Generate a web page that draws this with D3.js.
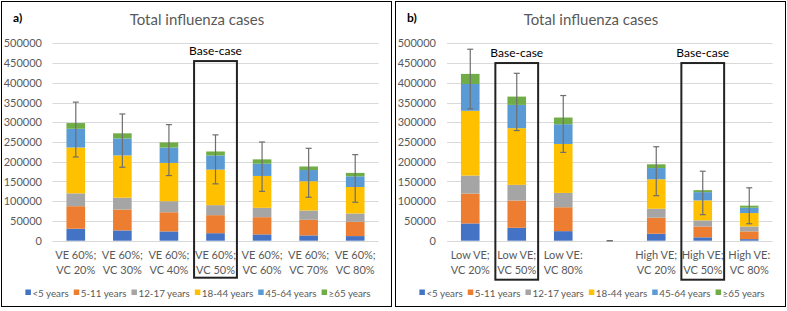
<!DOCTYPE html>
<html>
<head>
<meta charset="utf-8">
<script src="https://cdn.jsdelivr.net/npm/d3@7"></script>
<style>
  html, body { margin: 0; padding: 0; background: #fff; }
  svg { display: block; font-family: Lato, "Liberation Sans", sans-serif; }
</style>
</head>
<body>
<svg id="chart" width="787" height="311"></svg>
<script>
// ---------- DATA ----------
const seriesNames = ["<5 years", "5-11 years", "12-17 years", "18-44 years", "45-64 years", "≥65 years"];
const seriesColors = ["#4472C4", "#ED7D31", "#A5A5A5", "#FFC000", "#5B9BD5", "#70AD47"];
const yTicks = [0, 50000, 100000, 150000, 200000, 250000, 300000, 350000, 400000, 450000, 500000];

// Panel a)
const catsA = ["VE 60%;\nVC 20%", "VE 60%;\nVC 30%", "VE 60%;\nVC 40%", "VE 60%;\nVC 50%", "VE 60%;\nVC 60%", "VE 60%;\nVC 70%", "VE 60%;\nVC 80%"];
const a_lt5   = [30300, 26000, 23500, 19000, 16000, 13400, 11700];
const a_5_11  = [57100, 53000, 48500, 45700, 43600, 39600, 36300];
const a_12_17 = [32600, 30000, 28000, 25300, 23700, 23500, 21000];
const a_18_44 = [116000, 107000, 97000, 90000, 80700, 74000, 67000];
const a_45_64 = [47500, 43000, 39000, 36000, 31000, 28500, 27000];
const a_ge65  = [14500, 13000, 13000, 10000, 11000, 9000, 8700];
const a_errLow  = [212000, 186000, 165000, 144000, 125000, 110000, 97500];
const a_errHigh = [351000, 321000, 294000, 268000, 250000, 234000, 218000];
const a_baseCase = [3];          // index of highlighted category
const a_boxTop = 455000;         // value level of highlight box top

// Panel b)
const catsB = ["Low VE;\nVC 20%", "Low VE;\nVC 50%", "Low VE:\nVC 80%", "", "High VE;\nVC 20%", "High VE;\nVC 50%", "High VE:\nVC 80%"];
const b_lt5   = [43700, 32800, 24200, 0, 17700, 8500, 4000];
const b_5_11  = [75800, 68900, 60600, 0, 40600, 27500, 19600];
const b_12_17 = [45500, 39700, 36200, 0, 22700, 15500, 12400];
const b_18_44 = [164000, 143600, 124000, 0, 74500, 50500, 34000];
const b_45_64 = [68000, 59000, 50000, 0, 28500, 21000, 13600];
const b_ge65  = [25500, 21000, 17000, 0, 9500, 5000, 5100];
const b_errLow  = [334000, 279000, 223700, 0, 114000, 66000, 43000];
const b_errHigh = [485000, 424000, 367700, 0, 238000, 176000, 134000];
const b_baseCase = [1, 5];
const b_boxTop = 450000;

// ---------- DRAW ----------
const svg = d3.select("#chart");
const grey = "#595959";

function drawPanel(cfg) {
  const g = svg.append("g");
  // frame
  g.append("rect").attr("x", cfg.frame[0] + 0.5).attr("y", 1.5)
    .attr("width", cfg.frame[1] - cfg.frame[0]).attr("height", 305)
    .attr("fill", "none").attr("stroke", "#000").attr("stroke-width", 1);

  const x = d3.scaleBand().domain(d3.range(cfg.cats.length))
    .range(cfg.xr).paddingInner(0.6).paddingOuter(0.3);
  const y = d3.scaleLinear().domain([0, 500000]).range([240.7, 43.3]);

  // gridlines
  g.append("g").selectAll("line").data(yTicks).join("line")
    .attr("x1", cfg.xr[0]).attr("x2", cfg.xr[1])
    .attr("y1", d => Math.round(y(d)) + 0.5).attr("y2", d => Math.round(y(d)) + 0.5)
    .attr("stroke", "#D9D9D9").attr("stroke-width", 1);

  // y axis labels via d3 axis
  const yAxis = d3.axisLeft(y).tickValues(yTicks).tickSize(0).tickPadding(0).tickFormat(d3.format("d"));
  const ya = g.append("g").attr("transform", `translate(${cfg.yLabelX},0)`).call(yAxis);
  ya.select(".domain").remove();
  ya.selectAll("text").attr("fill", grey).attr("font-size", 11).attr("font-family", "Lato, sans-serif");

  // stacked bars
  const rows = cfg.cats.map((c, i) => {
    const r = { i };
    cfg.series.forEach((s, k) => r[k] = s[i]);
    return r;
  });
  const stack = d3.stack().keys(d3.range(cfg.series.length))(rows);
  g.append("g").selectAll("g").data(stack).join("g")
    .attr("fill", (d, k) => seriesColors[k])
    .selectAll("rect").data(d => d).join("rect")
    .attr("x", d => x(d.data.i))
    .attr("width", x.bandwidth())
    .attr("y", d => y(d[1]))
    .attr("height", d => Math.max(0, y(d[0]) - y(d[1])));

  // error bars
  const eb = g.append("g").attr("stroke", "#6E6E6E").attr("stroke-width", 1.2);
  cfg.cats.forEach((c, i) => {
    const cx = x(i) + x.bandwidth() / 2;
    eb.append("line").attr("x1", cx).attr("x2", cx).attr("y1", y(cfg.errHigh[i])).attr("y2", y(cfg.errLow[i]));
    [cfg.errHigh[i], cfg.errLow[i]].forEach(v => {
      eb.append("line").attr("x1", cx - 3).attr("x2", cx + 3).attr("y1", y(v)).attr("y2", y(v));
    });
  });

  // x labels
  cfg.cats.forEach((c, i) => {
    const cx = x(i) + x.bandwidth() / 2;
    const lines = c.split("\n");
    lines.forEach((ln, j) => {
      if (!ln) return;
      g.append("text").attr("x", cx).attr("y", 259 + j * 14.5)
        .attr("text-anchor", "middle").attr("font-size", 11).attr("fill", grey).text(ln);
    });
  });

  // highlight boxes
  cfg.baseCase.forEach(i => {
    const cx = x(i) + x.bandwidth() / 2;
    const half = x.step() * 0.46;
    const top = y(cfg.boxTop);
    g.append("rect").attr("x", cx - half).attr("y", top)
      .attr("width", half * 2).attr("height", y(0) + cfg.boxBottomOff - top)
      .attr("fill", "none").attr("stroke", "#222").attr("stroke-width", 2);
    g.append("text").attr("x", cx).attr("y", top - 6)
      .attr("text-anchor", "middle").attr("font-size", 12).attr("fill", "#000").text("Base-case");
  });

  // title and panel label
  const mid = (cfg.frame[0] + cfg.frame[1]) / 2;
  g.append("text").attr("x", mid + 1).attr("y", 25).attr("text-anchor", "middle")
    .attr("font-size", 15).attr("fill", grey).text("Total influenza cases");
  g.append("text").attr("x", cfg.frame[0] + 12).attr("y", 22)
    .attr("font-size", 12).attr("font-weight", "bold").attr("fill", "#000").text(cfg.label);

  // legend
  const lg = g.append("g");
  let cx = 0;
  seriesNames.forEach((n, k) => {
    lg.append("rect").attr("x", cx).attr("y", -4.5).attr("width", 5.5).attr("height", 5.5).attr("fill", seriesColors[k]);
    const t = lg.append("text").attr("x", cx + 7).attr("y", 0.5).attr("dominant-baseline", "middle")
      .attr("font-size", 9.8).attr("fill", grey).text(n);
    cx += 7 + t.node().getComputedTextLength() + 5;
  });
  const lw = cx - 5;
  lg.attr("transform", `translate(${mid + 2 - lw / 2},294)`);
}

drawPanel({
  frame: [1, 391], xr: [52.5, 378.5], yLabelX: 42, label: "a)",
  cats: catsA, series: [a_lt5, a_5_11, a_12_17, a_18_44, a_45_64, a_ge65],
  errLow: a_errLow, errHigh: a_errHigh, baseCase: a_baseCase, boxTop: a_boxTop, boxBottomOff: 37
});
drawPanel({
  frame: [395, 785], xr: [447, 772.5], yLabelX: 436, label: "b)",
  cats: catsB, series: [b_lt5, b_5_11, b_12_17, b_18_44, b_45_64, b_ge65],
  errLow: b_errLow, errHigh: b_errHigh, baseCase: b_baseCase, boxTop: b_boxTop, boxBottomOff: 39
});
</script>
</body>
</html>
